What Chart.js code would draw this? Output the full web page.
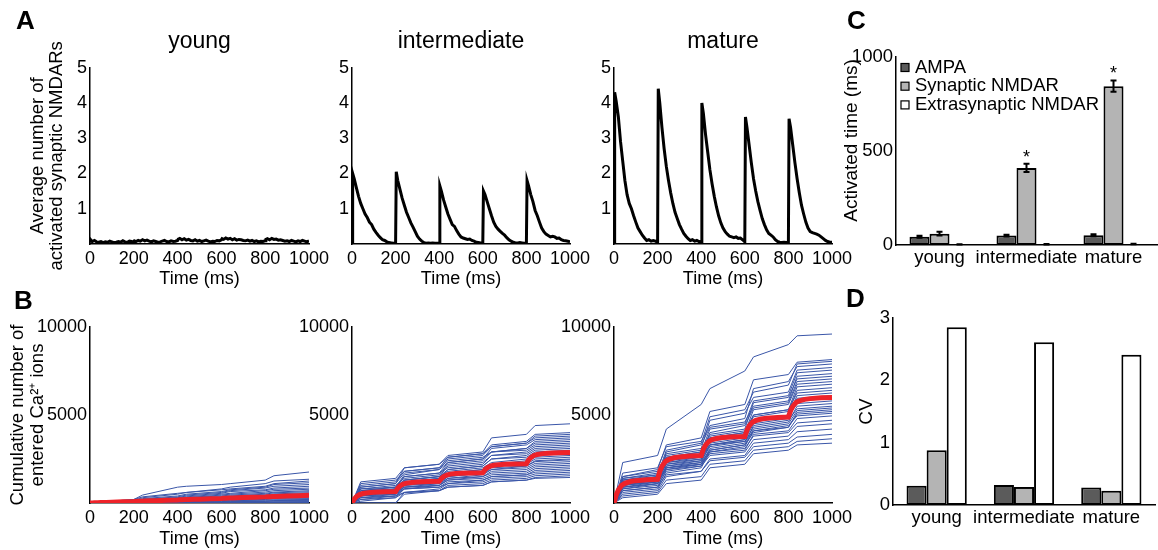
<!DOCTYPE html>
<html>
<head>
<meta charset="utf-8">
<script src="https://cdn.jsdelivr.net/npm/chart.js"></script>
<style>
html, body { margin: 0; padding: 0; background: #fff; }
#fig { position: relative; width: 1158px; height: 550px; overflow: hidden; font-family: "Liberation Sans", Arial, sans-serif; }
#fig canvas { position: absolute; }
.lbl { position: absolute; font-weight: bold; font-size: 26px; line-height: 26px; color: #000; }
</style>
</head>
<body>
<div id="fig">
  <canvas id="a0" width="335" height="290" style="left:0;top:0"></canvas>
  <canvas id="a1" width="324" height="290" style="left:272px;top:0"></canvas>
  <canvas id="a2" width="324" height="290" style="left:534px;top:0"></canvas>
  <canvas id="b0" width="335" height="260" style="left:0;top:290px"></canvas>
  <canvas id="b1" width="324" height="260" style="left:272px;top:290px"></canvas>
  <canvas id="b2" width="324" height="260" style="left:534px;top:290px"></canvas>
  <canvas id="c" width="338" height="285" style="left:820px;top:0"></canvas>
  <canvas id="d" width="338" height="265" style="left:820px;top:285px"></canvas>
  <div class="lbl" style="left:16px;top:7px">A</div>
  <div class="lbl" style="left:14px;top:287px">B</div>
  <div class="lbl" style="left:847px;top:7px">C</div>
  <div class="lbl" style="left:846px;top:285px">D</div>
</div>
<script>
"use strict"
const FONT = '"Liberation Sans", Arial, sans-serif'

const stages = ['young', 'intermediate', 'mature']

// A: mittlere Anzahl aktivierter synaptischer NMDARs (Zeitpunkte in ms)
const tA = [0, 3, 10, 20, 30, 40, 50, 60, 70, 80, 90, 100, 110, 120, 130, 140, 150, 160, 170, 180, 190,
    200, 203, 210, 220, 230, 240, 250, 260, 270, 280, 290, 300, 310, 320, 330, 340, 350, 360, 370, 380, 390,
    400, 403, 410, 420, 430, 440, 450, 460, 470, 480, 490, 500, 510, 520, 530, 540, 550, 560, 570, 580, 590,
    600, 603, 610, 620, 630, 640, 650, 660, 670, 680, 690, 700, 710, 720, 730, 740, 750, 760, 770, 780, 790,
    800, 803, 810, 820, 830, 840, 850, 860, 870, 880, 890, 900, 910, 920, 930, 940, 950, 960, 970, 980, 990, 1000]
const nmdaYoung = [0.08, 0.12, 0.07, 0.10, 0.06, 0.05, 0.07, 0.04, 0.06, 0.05, 0.08, 0.06, 0.04, 0.05, 0.07, 0.05, 0.09, 0.06, 0.05, 0.08, 0.07,
    0.06, 0.09, 0.07, 0.10, 0.08, 0.12, 0.09, 0.11, 0.08, 0.06, 0.09, 0.07, 0.05, 0.06, 0.08, 0.10, 0.07, 0.06, 0.09, 0.07, 0.08,
    0.10, 0.14, 0.16, 0.12, 0.15, 0.11, 0.13, 0.10, 0.09, 0.12, 0.08, 0.10, 0.07, 0.09, 0.11, 0.08, 0.06, 0.08, 0.07, 0.10, 0.09,
    0.12, 0.15, 0.13, 0.17, 0.14, 0.16, 0.12, 0.15, 0.11, 0.13, 0.12, 0.10, 0.09, 0.11, 0.08, 0.10, 0.07, 0.09, 0.06, 0.08, 0.07,
    0.09, 0.13, 0.15, 0.12, 0.16, 0.13, 0.14, 0.11, 0.12, 0.10, 0.08, 0.09, 0.07, 0.10, 0.08, 0.06, 0.09, 0.07, 0.10, 0.08, 0.06, 0.09]
const nmdaInter = [0.02, 2.00, 1.85, 1.60, 1.35, 1.15, 1.00, 0.85, 0.75, 0.62, 0.55, 0.42, 0.33, 0.25, 0.18, 0.12, 0.10, 0.06, 0.04, 0.03, 0.02,
    0.02, 2.05, 1.80, 1.55, 1.30, 1.10, 0.90, 0.75, 0.60, 0.48, 0.35, 0.22, 0.14, 0.08, 0.04, 0.02, 0.03, 0.02, 0.03, 0.02, 0.02,
    0.02, 1.65, 1.50, 1.25, 1.05, 0.85, 0.70, 0.55, 0.50, 0.38, 0.28, 0.20, 0.17, 0.15, 0.13, 0.14, 0.10, 0.08, 0.05, 0.04, 0.03,
    0.03, 1.50, 1.40, 1.20, 1.00, 0.80, 0.62, 0.50, 0.42, 0.36, 0.30, 0.25, 0.18, 0.12, 0.08, 0.05, 0.03, 0.03, 0.04, 0.03, 0.02,
    0.03, 1.80, 1.65, 1.40, 1.20, 0.95, 0.80, 0.62, 0.45, 0.35, 0.28, 0.24, 0.20, 0.22, 0.20, 0.16, 0.17, 0.12, 0.10, 0.09, 0.08, 0.06]
const nmdaMature = [0.05, 4.30, 4.05, 3.60, 2.90, 2.35, 1.80, 1.40, 1.15, 1.00, 0.80, 0.62, 0.45, 0.35, 0.25, 0.17, 0.10, 0.12, 0.08, 0.10, 0.08,
    0.05, 4.40, 4.00, 3.30, 2.70, 2.20, 1.80, 1.45, 1.15, 0.90, 0.72, 0.55, 0.42, 0.30, 0.22, 0.15, 0.10, 0.12, 0.08, 0.10, 0.07,
    0.05, 4.00, 3.70, 3.10, 2.60, 2.10, 1.70, 1.35, 1.05, 0.80, 0.60, 0.45, 0.35, 0.28, 0.22, 0.20, 0.18, 0.20, 0.16, 0.17, 0.12,
    0.06, 3.60, 3.30, 2.80, 2.30, 1.85, 1.50, 1.20, 0.95, 0.72, 0.55, 0.40, 0.30, 0.25, 0.20, 0.12, 0.07, 0.05, 0.04, 0.05, 0.04,
    0.04, 3.55, 3.30, 2.80, 2.30, 1.85, 1.45, 1.10, 0.85, 0.62, 0.45, 0.35, 0.32, 0.30, 0.28, 0.25, 0.20, 0.15, 0.10, 0.07, 0.05, 0.05]

// B: kumulative Ca2+-Ionen, einzelne Läufe (blau) und Mittelwert (rot)
const tRun = [0, 40, 200, 240, 400, 440, 600, 640, 800, 840, 1000]
const tMean = [0, 10, 20, 35, 50, 75, 100, 150, 200, 210, 220, 235, 250, 275, 300, 350,
    400, 410, 420, 435, 450, 475, 500, 550, 600, 610, 620, 635, 650, 675, 700, 750,
    800, 810, 820, 835, 850, 875, 900, 950, 1000]
const caMeanYoung = [0, 5, 10, 18, 25, 35, 45, 65, 85, 92, 98, 106, 112, 122, 132, 152,
    172, 180, 186, 194, 200, 210, 220, 240, 260, 268, 274, 282, 288, 298, 308, 328,
    348, 356, 362, 370, 376, 386, 396, 416, 436]
const caMeanInter = [0, 215, 360, 480, 540, 585, 610, 637, 650, 840, 970, 1080, 1130, 1170, 1195, 1220,
    1230, 1390, 1500, 1590, 1640, 1670, 1690, 1710, 1720, 1890, 2000, 2100, 2145, 2180, 2200, 2220,
    2230, 2440, 2580, 2700, 2760, 2805, 2830, 2855, 2870]
const caMeanMature = [0, 450, 740, 1000, 1120, 1220, 1270, 1320, 1350, 1800, 2090, 2350, 2470, 2570, 2620, 2670,
    2700, 3060, 3290, 3500, 3600, 3680, 3720, 3760, 3780, 4140, 4380, 4590, 4690, 4770, 4810, 4860,
    4880, 5250, 5490, 5710, 5810, 5890, 5930, 5980, 6000]
const caRunsYoung = [
    [0, 50, 200, 450, 900, 950, 1050, 1100, 1300, 1550, 1760],
    [0, 30, 150, 300, 500, 600, 800, 900, 1100, 1250, 1350],
    [0, 40, 200, 350, 550, 600, 750, 800, 950, 1100, 1250],
    [0, 20, 100, 250, 400, 500, 650, 750, 900, 1050, 1150],
    [0, 30, 150, 200, 350, 450, 600, 700, 850, 950, 1050],
    [0, 20, 100, 200, 300, 400, 550, 650, 750, 850, 950],
    [0, 10, 80, 150, 300, 350, 500, 550, 700, 780, 850],
    [0, 20, 120, 150, 250, 300, 450, 500, 620, 700, 780],
    [0, 10, 60, 120, 250, 300, 400, 450, 550, 620, 700],
    [0, 20, 100, 150, 200, 250, 350, 400, 500, 580, 640],
    [0, 0, 50, 100, 200, 250, 300, 350, 450, 520, 580],
    [0, 10, 80, 120, 180, 220, 300, 330, 400, 470, 520],
    [0, 0, 40, 80, 150, 200, 250, 300, 380, 420, 460],
    [0, 10, 50, 80, 130, 160, 220, 250, 320, 360, 400],
    [0, 0, 30, 60, 100, 150, 200, 220, 280, 320, 350],
    [0, 0, 40, 60, 100, 120, 160, 200, 240, 270, 300],
    [0, 0, 20, 40, 80, 100, 140, 160, 200, 230, 250],
    [0, 0, 20, 30, 60, 80, 110, 130, 160, 180, 200],
    [0, 0, 10, 20, 40, 60, 80, 100, 120, 140, 150],
    [0, 0, 0, 20, 30, 50, 60, 80, 90, 110, 120],
    [0, 0, 0, 10, 20, 30, 40, 50, 60, 70, 80],
    [0, 0, 0, 0, 10, 20, 20, 30, 40, 40, 50],
    [0, 0, 0, 0, 0, 10, 10, 20, 20, 30, 30],
    [0, 0, 0, 0, 0, 0, 0, 0, 0, 0, 0]
]
const caRunsInter = [
    [0, 900, 1100, 2000, 2200, 2700, 2900, 3700, 3900, 4400, 4500],
    [0, 1100, 1300, 1800, 2000, 2600, 2800, 3300, 3500, 3900, 4000],
    [0, 700, 900, 1600, 1900, 2500, 2700, 3200, 3400, 3800, 3900],
    [0, 1200, 1400, 2000, 2200, 2600, 2800, 3200, 3400, 3700, 3800],
    [0, 600, 800, 1500, 1700, 2300, 2500, 3100, 3300, 3600, 3700],
    [0, 900, 1100, 1700, 1900, 2300, 2500, 2900, 3100, 3500, 3600],
    [0, 800, 1000, 1400, 1600, 2200, 2400, 2900, 3100, 3400, 3500],
    [0, 1000, 1200, 1800, 2000, 2400, 2600, 2900, 3000, 3300, 3400],
    [0, 500, 700, 1300, 1500, 2100, 2300, 2700, 2900, 3200, 3300],
    [0, 700, 900, 1500, 1700, 2000, 2200, 2700, 2800, 3100, 3200],
    [0, 800, 900, 1300, 1500, 1900, 2100, 2500, 2700, 3000, 3100],
    [0, 400, 600, 1200, 1400, 1900, 2100, 2500, 2600, 2900, 3000],
    [0, 600, 800, 1300, 1500, 1800, 2000, 2300, 2500, 2800, 2900],
    [0, 700, 800, 1200, 1400, 1700, 1900, 2200, 2400, 2700, 2800],
    [0, 300, 500, 1000, 1200, 1700, 1900, 2200, 2300, 2600, 2700],
    [0, 500, 700, 1200, 1300, 1600, 1800, 2100, 2200, 2500, 2600],
    [0, 600, 700, 1100, 1200, 1500, 1700, 2000, 2100, 2400, 2500],
    [0, 200, 400, 900, 1100, 1500, 1700, 1900, 2100, 2350, 2450],
    [0, 500, 600, 1000, 1100, 1400, 1600, 1900, 2000, 2250, 2350],
    [0, 400, 500, 900, 1000, 1400, 1500, 1800, 1900, 2150, 2250],
    [0, 100, 300, 800, 1000, 1300, 1500, 1700, 1800, 2050, 2150],
    [0, 500, 600, 900, 1000, 1300, 1400, 1600, 1700, 1950, 2050],
    [0, 300, 400, 800, 900, 1200, 1300, 1500, 1600, 1850, 1950],
    [0, 0, 0, 600, 800, 1100, 1300, 1500, 1600, 1750, 1850],
    [0, 400, 500, 800, 900, 1100, 1200, 1400, 1500, 1650, 1750],
    [0, 200, 300, 600, 700, 1000, 1100, 1300, 1400, 1550, 1650],
    [0, 0, 0, 500, 700, 900, 1000, 1200, 1300, 1450, 1550],
    [0, 300, 400, 600, 700, 900, 1000, 1200, 1300, 1400, 1450]
]
const caRunsMature = [
    [0, 2300, 2700, 4200, 5600, 6500, 7500, 8300, 9000, 9500, 9600],
    [0, 1500, 1900, 3300, 3700, 5200, 5600, 7000, 7300, 8000, 8150],
    [0, 1300, 1600, 3000, 3400, 4900, 5300, 6300, 6700, 7900, 8050],
    [0, 1700, 2000, 3200, 3500, 4400, 4800, 6500, 6900, 7750, 7900],
    [0, 1200, 1500, 2800, 3100, 4700, 5100, 6000, 6300, 7550, 7700],
    [0, 1400, 1700, 2600, 2900, 4200, 4500, 5800, 6100, 7400, 7550],
    [0, 1000, 1300, 2900, 3300, 4300, 4600, 5500, 5800, 7200, 7350],
    [0, 1500, 1800, 2700, 3000, 3900, 4200, 5700, 6000, 7050, 7200],
    [0, 1100, 1400, 2400, 2700, 4000, 4400, 5400, 5700, 6900, 7050],
    [0, 1300, 1500, 2500, 2800, 3700, 4000, 5300, 5600, 6750, 6900],
    [0, 900, 1200, 2600, 2900, 3800, 4100, 5000, 5300, 6600, 6750],
    [0, 1200, 1400, 2300, 2600, 3700, 4000, 4900, 5200, 6400, 6550],
    [0, 1000, 1300, 2200, 2500, 3500, 3800, 5000, 5300, 6250, 6400],
    [0, 1400, 1600, 2500, 2700, 3400, 3700, 4700, 5000, 6100, 6250],
    [0, 800, 1100, 2100, 2400, 3600, 3900, 4600, 4900, 5950, 6100],
    [0, 1100, 1300, 2300, 2500, 3300, 3600, 4500, 4800, 5800, 5950],
    [0, 900, 1100, 2000, 2300, 3300, 3600, 4700, 4900, 5650, 5800],
    [0, 1200, 1400, 2200, 2400, 3200, 3500, 4300, 4600, 5500, 5650],
    [0, 700, 900, 1900, 2200, 3100, 3400, 4400, 4700, 5350, 5500],
    [0, 1000, 1200, 2100, 2300, 3000, 3300, 4200, 4500, 5250, 5400],
    [0, 1300, 1500, 2400, 2600, 3300, 3500, 4100, 4300, 5150, 5300],
    [0, 800, 1000, 1800, 2100, 3000, 3300, 4000, 4300, 5050, 5200],
    [0, 1100, 1300, 2000, 2200, 2900, 3200, 4100, 4400, 4950, 5100],
    [0, 900, 1100, 2000, 2200, 2800, 3000, 3900, 4100, 4800, 4950],
    [0, 600, 800, 1700, 2000, 2900, 3100, 3800, 4000, 4550, 4700],
    [0, 1000, 1200, 1900, 2100, 2700, 2900, 3600, 3800, 4350, 4500],
    [0, 500, 700, 1500, 1800, 2500, 2700, 3400, 3600, 4050, 4200],
    [0, 700, 900, 1600, 1800, 2400, 2600, 3200, 3400, 3750, 3900],
    [0, 400, 600, 1300, 1500, 2200, 2400, 3000, 3200, 3500, 3650],
    [0, 300, 500, 1100, 1300, 2000, 2200, 2800, 3000, 3300, 3400]
]

// C: aktivierte Zeit (ms) mit Fehlerbalken, D: Variationskoeffizient
const recTypes = ['AMPA', 'Synaptic NMDAR', 'Extrasynaptic NMDAR']
const recColors = ['#5b5b5b', '#b4b4b4', '#ffffff']
const actAmpa = [44, 50, 52]
const actSyn = [60, 410, 845]
const actExtra = [3, 4, 5]
const errAmpa = [5, 5, 5]
const errSyn = [10, 22, 30]
const errExtra = [1, 1, 1]
const sigSyn = [false, true, true]
const cvAmpa = [0.31, 0.32, 0.28]
const cvSyn = [0.88, 0.29, 0.23]
const cvExtra = [2.85, 2.61, 2.41]

Chart.defaults.font.family = FONT
Chart.defaults.color = '#000'
Chart.defaults.animation = false
Chart.defaults.plugins.legend.display = false
Chart.defaults.plugins.tooltip.enabled = false

function pairs(xs, ys) {
    return ys.map((y, i) => ({ x: xs[i], y: y }))
}

function noZero(v) {
    return v === 0 ? '' : String(v)
}

// Liniendiagramm mit Zeitachse 0..1000 ms
function timeChart(id, datasets, o) {
    return new Chart(document.getElementById(id), {
        type: 'line',
        data: { datasets: datasets },
        options: {
            responsive: false,
            layout: { padding: { top: o.padTop, right: o.padRight, left: 0, bottom: 0 } },
            elements: { point: { radius: 0 }, line: { tension: 0 } },
            plugins: {
                title: o.title ? {
                    display: true, text: o.title, fullSize: false, color: '#000',
                    font: { size: 23, weight: 'normal', lineHeight: 1.2 },
                    padding: { top: 28, bottom: 12 }
                } : { display: false }
            },
            scales: {
                x: {
                    type: 'linear', min: 0, max: 1000,
                    grid: { display: false, drawTicks: false },
                    border: { color: '#000', width: 1.5 },
                    ticks: { stepSize: 200, font: { size: 18 }, padding: 4, maxRotation: 0, autoSkip: false, callback: v => String(v) },
                    title: { display: true, text: 'Time (ms)', font: { size: 18, lineHeight: 1 }, padding: { top: 0, bottom: 2 } },
                    afterFit: s => { s.height = o.xHeight }
                },
                y: {
                    min: 0, max: o.yMax,
                    grid: { display: false, drawTicks: false },
                    border: { color: '#000', width: 1.5 },
                    ticks: { stepSize: o.yStep, font: { size: 18 }, padding: 3, callback: noZero },
                    title: o.yTitle ? {
                        display: true, text: o.yTitle,
                        font: { size: 18.5, lineHeight: o.yTitleLh },
                        padding: { top: o.yTitlePad, bottom: 0 }
                    } : { display: false },
                    afterFit: s => { s.width = o.yWidth }
                }
            }
        }
    })
}

function nmdaSet(values) {
    return [{ data: pairs(tA, values), borderColor: '#000', borderWidth: 3 }]
}

function caSets(mean, runs) {
    const sets = [{ data: pairs(tMean, mean), borderColor: '#ee2229', borderWidth: 5 }]
    runs.forEach(r => sets.push({ data: pairs(tRun, r), borderColor: 'rgb(58,86,168)', borderWidth: 1 }))
    return sets
}

const rowA = { padTop: 0, padRight: 26, xHeight: 46, yMax: 5, yStep: 1 }
timeChart('a0', nmdaSet(nmdaYoung), Object.assign({}, rowA, { title: stages[0], yWidth: 90,
    yTitle: ['Average number of', 'activated synaptic NMDARs'], yTitleLh: 1, yTitlePad: 28.75 }))
timeChart('a1', nmdaSet(nmdaInter), Object.assign({}, rowA, { title: stages[1], yWidth: 80 }))
timeChart('a2', nmdaSet(nmdaMature), Object.assign({}, rowA, { title: stages[2], yWidth: 80 }))

const rowB = { padTop: 37, padRight: 26, xHeight: 47, yMax: 10000, yStep: 5000 }
timeChart('b0', caSets(caMeanYoung, caRunsYoung), Object.assign({}, rowB, { yWidth: 90,
    yTitle: ['Cumulative number of', 'entered Ca\u00B2\u207A ions'], yTitleLh: 1.1, yTitlePad: 7.8 }))
timeChart('b1', caSets(caMeanInter, caRunsInter), Object.assign({}, rowB, { yWidth: 80 }))
timeChart('b2', caSets(caMeanMature, caRunsMature), Object.assign({}, rowB, { yWidth: 80 }))

// Fehlerbalken und Sternchen über den Balken
const errorBars = {
    id: 'errorBars',
    afterDatasetsDraw(chart) {
        const ctx = chart.ctx
        const y = chart.scales.y
        chart.data.datasets.forEach((ds, i) => {
            if (!ds.errors) return
            chart.getDatasetMeta(i).data.forEach((bar, j) => {
                const top = y.getPixelForValue(ds.data[j] + ds.errors[j])
                const bot = y.getPixelForValue(Math.max(0, ds.data[j] - ds.errors[j]))
                ctx.save()
                ctx.strokeStyle = '#000'
                ctx.lineWidth = 2
                ctx.beginPath()
                ctx.moveTo(bar.x, top); ctx.lineTo(bar.x, bot)
                ctx.moveTo(bar.x - 3, top); ctx.lineTo(bar.x + 3, top)
                ctx.moveTo(bar.x - 3, bot); ctx.lineTo(bar.x + 3, bot)
                ctx.stroke()
                if (ds.stars && ds.stars[j]) {
                    ctx.fillStyle = '#000'
                    ctx.font = '18px ' + FONT
                    ctx.textAlign = 'center'
                    ctx.textBaseline = 'middle'
                    ctx.fillText('*', bar.x, top - 6)
                }
                ctx.restore()
            })
        })
    }
}

// Legende oben links im Diagrammbereich
const boxLegend = {
    id: 'boxLegend',
    afterDraw(chart) {
        const ctx = chart.ctx
        const a = chart.chartArea
        ctx.save()
        ctx.font = '18.5px ' + FONT
        ctx.textBaseline = 'middle'
        ctx.textAlign = 'left'
        chart.data.datasets.forEach((ds, i) => {
            const cy = a.top + 10.5 + i * 18.7
            ctx.fillStyle = ds.backgroundColor
            ctx.fillRect(a.left + 5, cy - 4, 8, 8)
            ctx.strokeStyle = '#000'
            ctx.lineWidth = 1.2
            ctx.strokeRect(a.left + 5, cy - 4, 8, 8)
            ctx.fillStyle = '#000'
            ctx.fillText(ds.label, a.left + 19, cy)
        })
        ctx.restore()
    }
}

function barChart(id, datasets, o, plugins) {
    return new Chart(document.getElementById(id), {
        type: 'bar',
        data: { labels: stages, datasets: datasets },
        options: {
            responsive: false,
            layout: { padding: { top: o.padTop, right: o.padRight, left: 0, bottom: 0 } },
            datasets: { bar: { categoryPercentage: 0.69, barPercentage: 1, borderWidth: 2, borderColor: '#000', borderSkipped: false } },
            scales: {
                x: {
                    grid: { display: false, drawTicks: false },
                    border: { color: '#000', width: 1.5 },
                    ticks: { font: { size: 18.5 }, padding: 2, maxRotation: 0, minRotation: 0, autoSkip: false },
                    afterFit: s => { s.height = o.xHeight }
                },
                y: {
                    min: 0, max: o.yMax,
                    grid: { display: false, drawTicks: false },
                    border: { color: '#000', width: 1.5 },
                    ticks: { stepSize: o.yStep, font: { size: 18.5 }, padding: 3, callback: v => String(v) },
                    title: { display: true, text: o.yTitle, font: { size: 19, lineHeight: 1 }, padding: { top: o.yTitlePad, bottom: 0 } },
                    afterFit: s => { s.width = o.yWidth }
                }
            }
        },
        plugins: plugins
    })
}

barChart('c', [
    { label: recTypes[0], data: actAmpa, backgroundColor: recColors[0], errors: errAmpa },
    { label: recTypes[1], data: actSyn, backgroundColor: recColors[1], errors: errSyn, stars: sigSyn },
    { label: recTypes[2], data: actExtra, backgroundColor: recColors[2], errors: errExtra }
], { padTop: 57, padRight: 1, xHeight: 40, yMax: 1000, yStep: 500, yWidth: 76,
    yTitle: '    Activated time (ms)', yTitlePad: 22.5 }, [errorBars, boxLegend])

barChart('d', [
    { label: recTypes[0], data: cvAmpa, backgroundColor: recColors[0] },
    { label: recTypes[1], data: cvSyn, backgroundColor: recColors[1] },
    { label: recTypes[2], data: cvExtra, backgroundColor: recColors[2] }
], { padTop: 33, padRight: 3, xHeight: 45, yMax: 3, yStep: 1, yWidth: 73,
    yTitle: 'CV', yTitlePad: 37.5 }, [])
</script>
</body>
</html>
